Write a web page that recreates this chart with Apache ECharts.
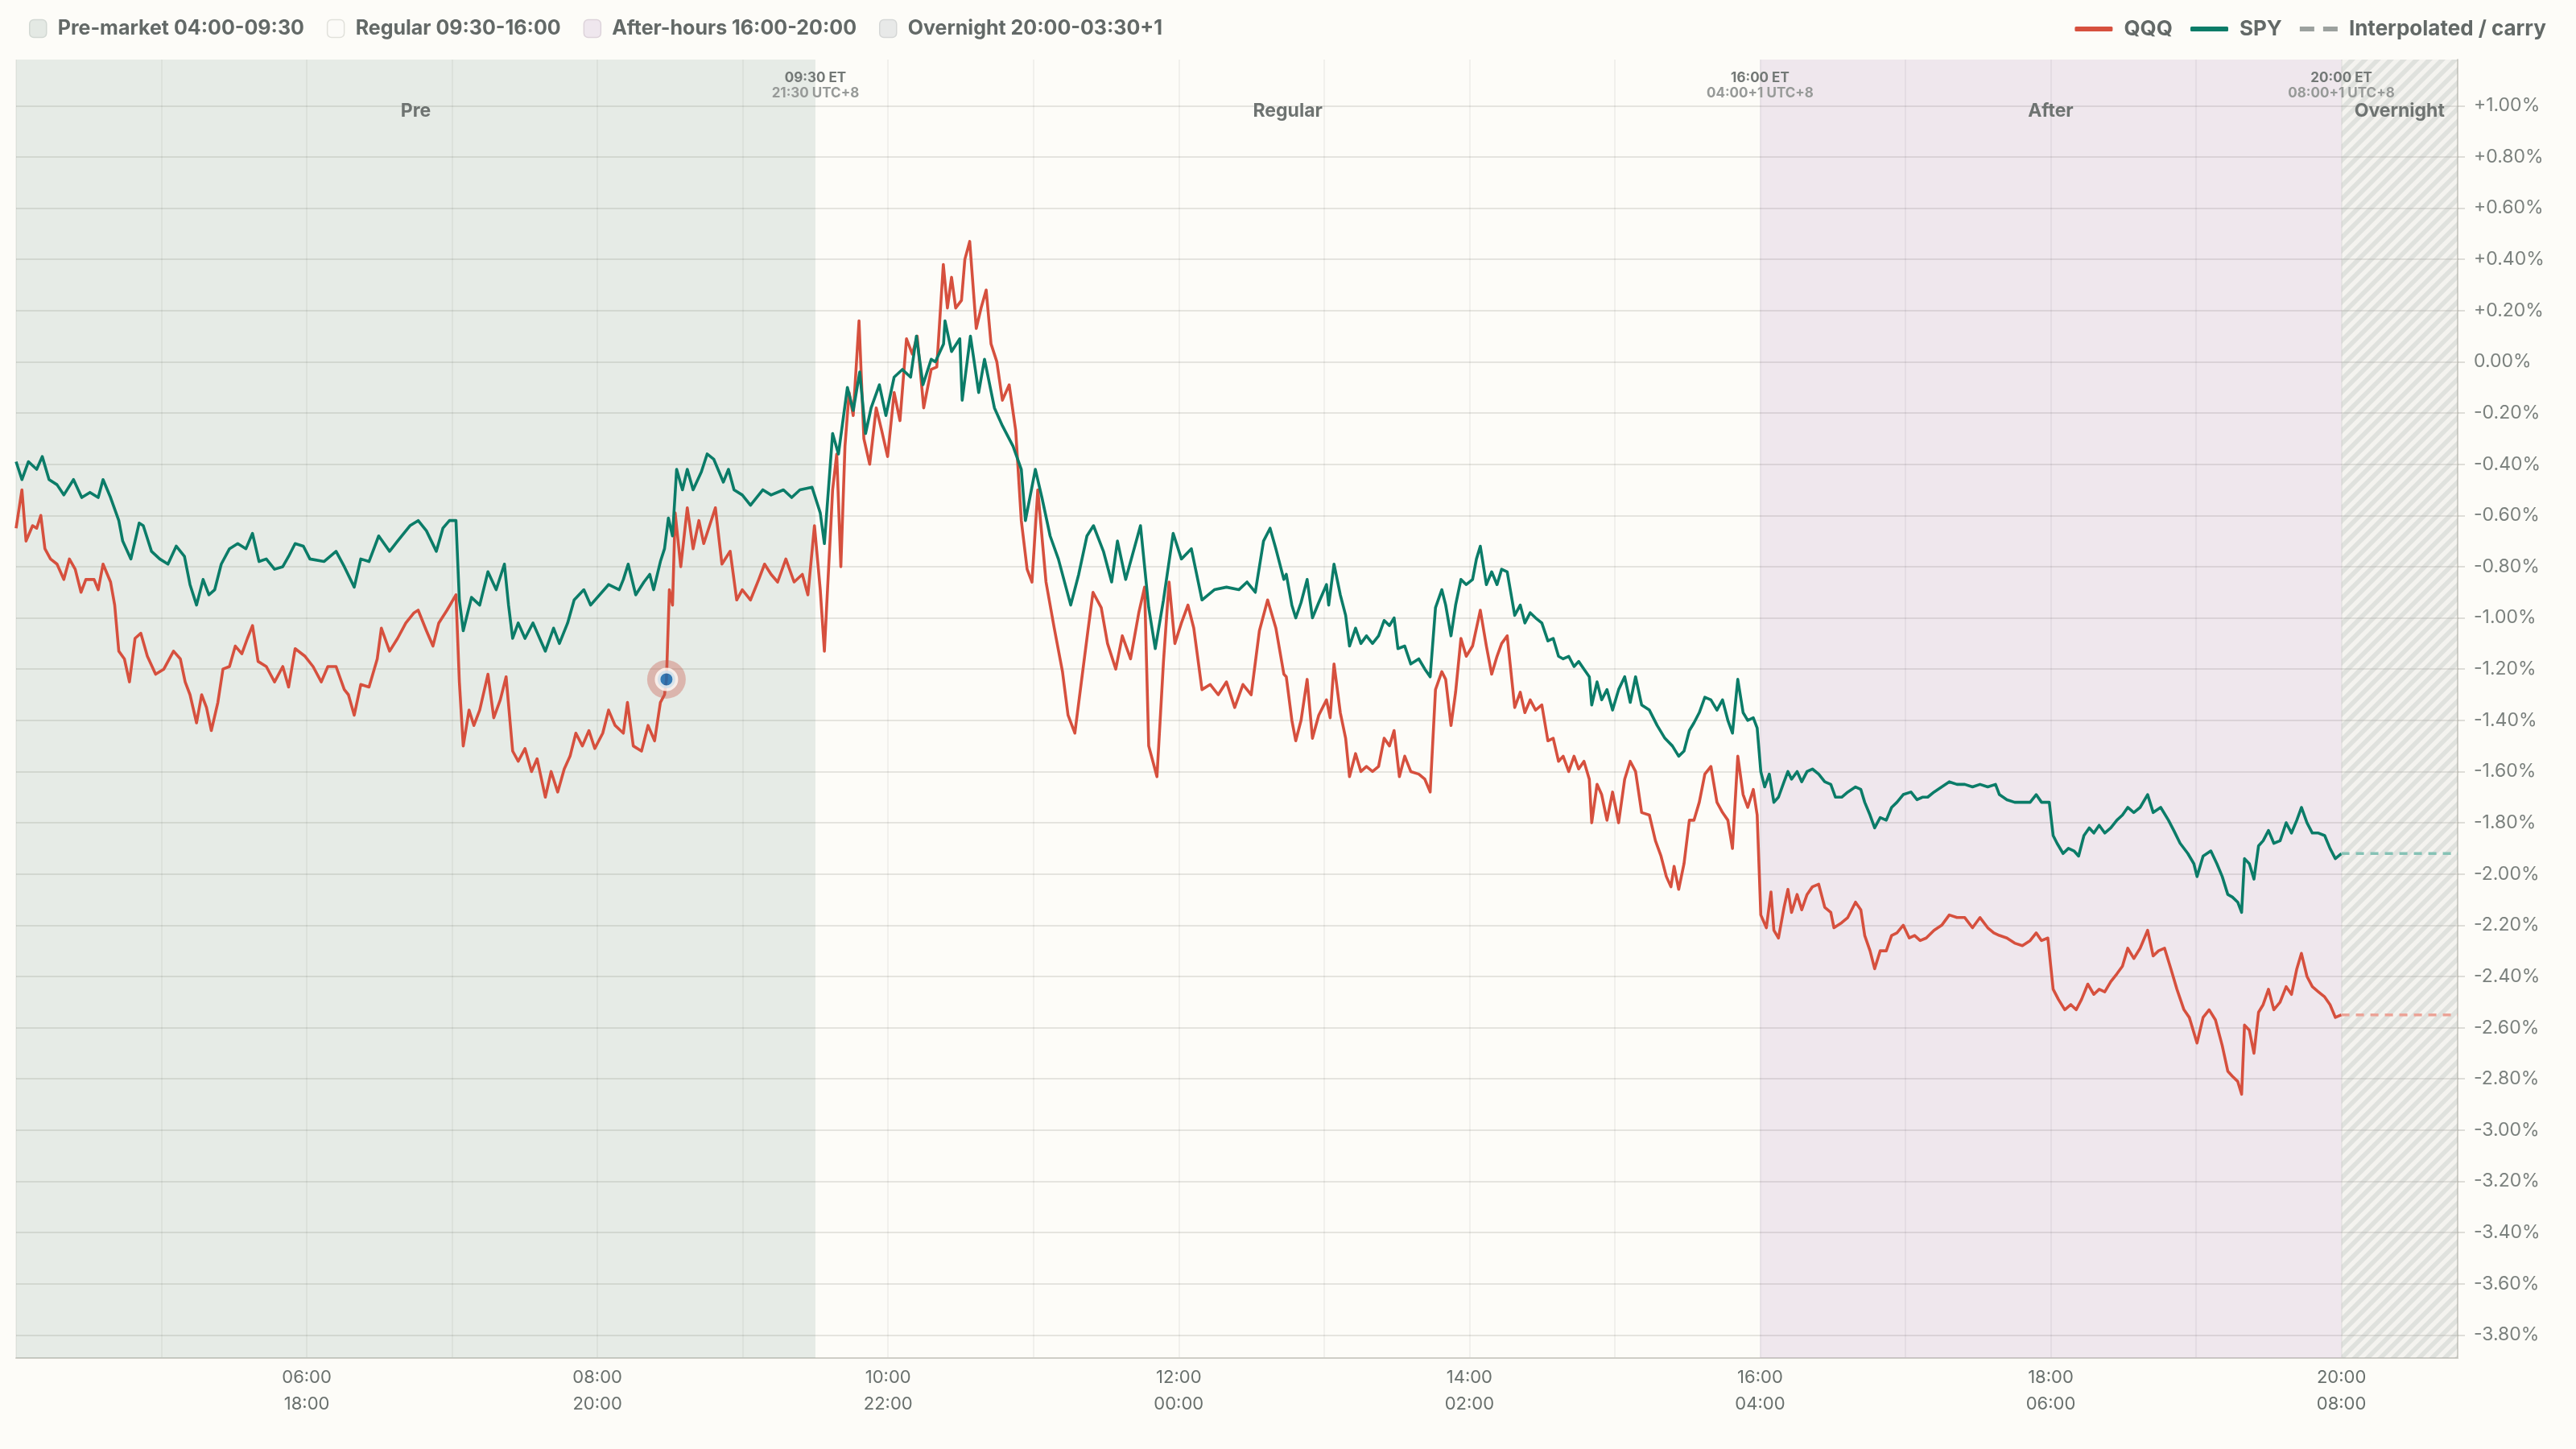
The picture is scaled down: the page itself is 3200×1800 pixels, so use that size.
<!DOCTYPE html>
<html>
<head>
<meta charset="utf-8">
<title>QQQ / SPY intraday sessions</title>
<script src="https://cdn.jsdelivr.net/npm/echarts@6/dist/echarts.min.js"></script>
<style>
html, body { margin: 0; padding: 0; background: #fdfcf8; }
#chart { width: 3200px; height: 1800px; }
</style>
</head>
<body>
<div id="chart"></div>
<script>
// [minutes after 00:00 ET, % change]
const qqqPoints = [
  [240.0,-0.65],[242.4,-0.50],[244.1,-0.70],[246.8,-0.64],[248.5,-0.65],[250.2,-0.60],[251.9,-0.73],[254.2,-0.77],[256.9,-0.79],[259.7,-0.85],
  [262.0,-0.77],[264.4,-0.81],[266.8,-0.90],[268.8,-0.85],[272.2,-0.85],[273.9,-0.89],[275.9,-0.79],[279.0,-0.86],[280.7,-0.95],[282.4,-1.13],
  [284.7,-1.16],[286.8,-1.25],[289.1,-1.08],[291.5,-1.06],[294.2,-1.15],[297.6,-1.22],[301.0,-1.20],[305.0,-1.13],[307.8,-1.16],[309.8,-1.25],
  [311.8,-1.30],[314.5,-1.41],[316.6,-1.30],[318.6,-1.35],[320.6,-1.44],[323.3,-1.33],[325.4,-1.20],[328.1,-1.19],[330.5,-1.11],[333.2,-1.14],
  [335.5,-1.08],[337.6,-1.03],[339.9,-1.17],[343.3,-1.19],[346.7,-1.25],[350.1,-1.19],[352.5,-1.27],[355.2,-1.12],[359.3,-1.15],[362.6,-1.19],
  [366.0,-1.25],[368.7,-1.19],[372.1,-1.19],[375.5,-1.28],[377.2,-1.30],[379.6,-1.38],[382.3,-1.26],[385.7,-1.27],[389.1,-1.16],[390.8,-1.04],
  [394.2,-1.13],[397.5,-1.08],[400.9,-1.02],[404.3,-0.98],[406.0,-0.97],[409.4,-1.05],[412.1,-1.11],[414.5,-1.02],[417.9,-0.97],[421.6,-0.91],
  [423.0,-1.25],[424.6,-1.50],[427.0,-1.36],[429.0,-1.42],[431.4,-1.36],[434.8,-1.22],[437.2,-1.39],[439.9,-1.32],[442.3,-1.23],[445.0,-1.52],
  [447.3,-1.56],[450.1,-1.51],[452.8,-1.60],[455.1,-1.55],[458.5,-1.70],[460.9,-1.60],[463.6,-1.68],[466.3,-1.59],[468.7,-1.54],[471.1,-1.45],
  [473.8,-1.50],[476.5,-1.44],[478.9,-1.51],[482.2,-1.45],[484.6,-1.36],[487.3,-1.42],[490.7,-1.45],[492.4,-1.33],[494.8,-1.50],[498.2,-1.52],
  [500.9,-1.42],[503.6,-1.48],[506.0,-1.33],[507.7,-1.30],[508.5,-1.24],[509.7,-0.89],[511.0,-0.95],[512.1,-0.59],[514.4,-0.80],[517.1,-0.57],
  [519.5,-0.73],[521.9,-0.62],[523.9,-0.71],[526.3,-0.64],[528.7,-0.57],[531.4,-0.79],[534.8,-0.74],[537.5,-0.93],[539.8,-0.89],[543.2,-0.93],
  [546.6,-0.85],[549.0,-0.79],[551.7,-0.83],[554.4,-0.86],[557.8,-0.77],[561.2,-0.86],[564.6,-0.83],[566.9,-0.91],[569.6,-0.64],[572.0,-0.89],
  [573.7,-1.13],[577.1,-0.50],[578.8,-0.36],[580.5,-0.80],[582.2,-0.33],[583.9,-0.12],[585.6,-0.21],[588.0,0.16],[590.0,-0.30],[592.4,-0.40],
  [595.1,-0.18],[597.4,-0.27],[599.8,-0.37],[602.5,-0.12],[604.9,-0.23],[607.6,0.09],[610.0,0.03],[612.0,0.10],[614.7,-0.18],[617.8,-0.03],
  [620.1,-0.02],[622.8,0.38],[624.5,0.21],[626.2,0.33],[627.9,0.21],[630.3,0.24],[631.7,0.40],[633.7,0.47],[636.4,0.13],[638.4,0.21],
  [640.5,0.28],[642.5,0.07],[644.9,0.00],[647.2,-0.15],[650.0,-0.09],[652.7,-0.27],[655.0,-0.62],[657.4,-0.81],[659.4,-0.86],[661.8,-0.50],
  [665.2,-0.86],[668.6,-1.04],[672.0,-1.21],[674.3,-1.38],[677.1,-1.45],[679.8,-1.25],[682.5,-1.05],[684.6,-0.90],[688.0,-0.96],[690.6,-1.10],
  [694.0,-1.20],[696.7,-1.07],[700.1,-1.16],[703.5,-0.98],[705.9,-0.88],[707.6,-1.50],[711.0,-1.62],[713.7,-1.17],[716.0,-0.86],[718.4,-1.10],
  [721.1,-1.02],[723.8,-0.95],[726.2,-1.04],[729.6,-1.28],[733.0,-1.26],[736.3,-1.30],[739.7,-1.25],[743.1,-1.35],[746.5,-1.26],[749.9,-1.30],
  [753.3,-1.05],[756.7,-0.93],[760.1,-1.04],[763.4,-1.22],[764.4,-1.23],[766.7,-1.40],[768.3,-1.48],[770.5,-1.40],[773.0,-1.24],[775.2,-1.47],
  [777.8,-1.38],[781.0,-1.32],[782.5,-1.39],[784.1,-1.18],[786.7,-1.37],[788.9,-1.47],[790.5,-1.62],[793.0,-1.53],[795.2,-1.60],[797.5,-1.58],
  [800.0,-1.60],[802.5,-1.58],[804.8,-1.47],[807.0,-1.50],[808.9,-1.44],[811.1,-1.62],[813.3,-1.54],[815.8,-1.60],[819.1,-1.61],[821.6,-1.63],
  [823.8,-1.68],[826.0,-1.28],[828.6,-1.21],[830.2,-1.24],[832.4,-1.42],[834.3,-1.29],[836.5,-1.08],[838.7,-1.15],[841.3,-1.11],[844.5,-0.97],
  [847.0,-1.11],[849.2,-1.22],[851.4,-1.15],[853.3,-1.10],[855.6,-1.07],[858.7,-1.35],[861.0,-1.29],[862.9,-1.37],[865.1,-1.32],[867.3,-1.36],
  [869.9,-1.34],[872.4,-1.48],[874.6,-1.47],[876.8,-1.56],[878.7,-1.54],[881.0,-1.60],[883.2,-1.54],[885.1,-1.59],[887.3,-1.56],[889.5,-1.63],
  [890.5,-1.80],[892.7,-1.65],[894.6,-1.69],[896.8,-1.79],[899.1,-1.68],[901.6,-1.80],[904.1,-1.63],[906.4,-1.56],[908.6,-1.60],[911.1,-1.76],
  [914.3,-1.77],[916.8,-1.87],[919.1,-1.93],[921.3,-2.01],[923.2,-2.05],[924.5,-1.97],[926.4,-2.06],[928.6,-1.96],[930.8,-1.79],[932.7,-1.79],
  [934.9,-1.72],[937.2,-1.61],[939.7,-1.58],[942.2,-1.72],[944.5,-1.76],[946.7,-1.79],[948.6,-1.90],[950.8,-1.54],[953.0,-1.69],[954.9,-1.74],
  [957.2,-1.67],[958.8,-1.77],[960.3,-2.16],[962.6,-2.21],[964.5,-2.07],[965.7,-2.22],[967.6,-2.25],[969.9,-2.13],[971.5,-2.06],[973.0,-2.15],
  [975.3,-2.08],[977.2,-2.14],[979.4,-2.08],[981.6,-2.05],[984.2,-2.04],[986.7,-2.13],[989.2,-2.15],[990.5,-2.21],[993.7,-2.19],[996.2,-2.17],
  [999.4,-2.11],[1001.6,-2.14],[1003.2,-2.24],[1005.4,-2.30],[1007.3,-2.37],[1009.6,-2.30],[1012.1,-2.30],[1014.3,-2.24],[1016.5,-2.23],[1019.1,-2.20],
  [1021.6,-2.25],[1023.8,-2.24],[1026.1,-2.26],[1028.6,-2.25],[1031.8,-2.22],[1035.0,-2.20],[1038.1,-2.16],[1041.3,-2.17],[1044.5,-2.17],[1047.7,-2.21],
  [1050.8,-2.17],[1054.0,-2.21],[1056.5,-2.23],[1058.8,-2.24],[1061.9,-2.25],[1065.1,-2.27],[1068.3,-2.28],[1071.5,-2.26],[1074.0,-2.23],[1076.2,-2.26],
  [1078.8,-2.25],[1081.0,-2.45],[1083.2,-2.49],[1085.8,-2.53],[1088.3,-2.51],[1090.5,-2.53],[1092.7,-2.49],[1095.3,-2.43],[1097.8,-2.47],[1100.0,-2.45],
  [1102.3,-2.46],[1104.8,-2.42],[1107.3,-2.39],[1109.6,-2.36],[1111.8,-2.29],[1114.3,-2.33],[1116.9,-2.29],[1120.0,-2.22],[1122.3,-2.32],[1124.5,-2.30],
  [1127.0,-2.29],[1129.6,-2.37],[1132.1,-2.45],[1135.0,-2.53],[1137.2,-2.56],[1140.4,-2.66],[1142.9,-2.56],[1145.4,-2.53],[1148.0,-2.57],[1150.8,-2.67],
  [1153.1,-2.77],[1155.0,-2.79],[1157.2,-2.81],[1158.8,-2.86],[1160.0,-2.59],[1162.0,-2.61],[1163.9,-2.70],[1165.8,-2.54],[1167.7,-2.51],[1169.9,-2.45],
  [1172.1,-2.53],[1174.7,-2.50],[1177.2,-2.44],[1179.4,-2.47],[1181.6,-2.37],[1183.5,-2.31],[1185.8,-2.40],[1188.0,-2.44],[1190.5,-2.46],[1193.1,-2.48],
  [1195.3,-2.51],[1197.5,-2.56],[1200.0,-2.55]
];

const spyPoints = [
  [240.0,-0.39],[242.4,-0.46],[245.1,-0.39],[248.5,-0.42],[250.8,-0.37],[253.6,-0.46],[256.9,-0.48],[259.7,-0.52],[263.7,-0.46],[267.1,-0.53],
  [270.5,-0.51],[273.9,-0.53],[275.9,-0.46],[279.0,-0.53],[282.4,-0.62],[284.0,-0.70],[287.4,-0.77],[290.8,-0.63],[292.5,-0.64],[295.9,-0.74],
  [299.3,-0.77],[302.7,-0.79],[306.1,-0.72],[309.5,-0.76],[311.8,-0.87],[314.5,-0.95],[317.2,-0.85],[319.6,-0.91],[322.0,-0.89],[324.7,-0.79],
  [328.1,-0.73],[331.5,-0.71],[334.9,-0.73],[337.6,-0.67],[340.3,-0.78],[343.3,-0.77],[346.7,-0.81],[350.1,-0.80],[352.5,-0.76],[355.2,-0.71],
  [358.6,-0.72],[361.3,-0.77],[367.1,-0.78],[372.1,-0.74],[375.5,-0.80],[379.6,-0.88],[382.3,-0.77],[385.7,-0.78],[389.7,-0.68],[394.2,-0.74],
  [397.5,-0.70],[402.6,-0.64],[406.0,-0.62],[409.4,-0.66],[413.5,-0.74],[416.2,-0.65],[418.9,-0.62],[421.6,-0.62],[423.0,-0.93],[424.6,-1.05],
  [428.0,-0.92],[431.4,-0.95],[434.8,-0.82],[438.2,-0.89],[441.6,-0.79],[443.3,-0.95],[445.0,-1.08],[447.3,-1.02],[450.1,-1.08],[453.4,-1.02],
  [458.5,-1.13],[461.9,-1.04],[464.3,-1.10],[467.7,-1.02],[470.4,-0.93],[474.4,-0.89],[477.2,-0.95],[484.6,-0.87],[489.0,-0.89],[490.7,-0.85],
  [492.7,-0.79],[495.8,-0.91],[499.2,-0.86],[501.6,-0.83],[503.2,-0.89],[506.0,-0.78],[507.7,-0.73],[509.3,-0.61],[511.0,-0.68],[512.7,-0.42],
  [515.1,-0.50],[517.1,-0.42],[519.5,-0.50],[522.9,-0.43],[525.3,-0.36],[528.0,-0.38],[532.0,-0.47],[534.1,-0.42],[536.4,-0.50],[539.8,-0.52],
  [543.2,-0.56],[548.3,-0.50],[551.7,-0.52],[556.8,-0.50],[560.2,-0.53],[563.6,-0.50],[568.6,-0.49],[572.0,-0.59],[573.7,-0.71],[577.1,-0.28],
  [579.5,-0.36],[583.2,-0.10],[585.6,-0.19],[588.3,-0.04],[590.7,-0.28],[593.0,-0.18],[596.4,-0.09],[599.1,-0.21],[602.5,-0.06],[605.9,-0.03],
  [609.3,-0.06],[611.7,0.10],[614.4,-0.09],[617.8,0.01],[619.5,0.00],[622.9,0.07],[623.5,0.16],[626.2,0.04],[629.6,0.09],[630.6,-0.15],
  [634.0,0.10],[637.4,-0.12],[639.8,0.01],[643.9,-0.18],[647.2,-0.25],[651.6,-0.33],[655.0,-0.42],[656.7,-0.62],[660.8,-0.42],[663.5,-0.53],
  [666.9,-0.68],[670.3,-0.77],[675.4,-0.95],[678.7,-0.83],[682.1,-0.68],[684.8,-0.64],[688.9,-0.74],[692.3,-0.86],[694.7,-0.70],[698.1,-0.85],
  [704.2,-0.64],[707.6,-0.96],[710.3,-1.12],[713.7,-0.93],[717.7,-0.67],[721.1,-0.77],[725.2,-0.73],[729.6,-0.93],[734.7,-0.89],[739.7,-0.88],
  [744.8,-0.89],[748.2,-0.86],[751.6,-0.90],[755.0,-0.70],[757.7,-0.65],[760.1,-0.73],[763.4,-0.85],[764.4,-0.83],[766.7,-0.95],[768.3,-1.00],
  [770.5,-0.94],[773.0,-0.85],[775.2,-1.00],[777.8,-0.94],[781.0,-0.87],[781.9,-0.95],[784.1,-0.79],[786.7,-0.91],[788.9,-0.99],[790.5,-1.11],
  [793.0,-1.04],[795.2,-1.10],[797.5,-1.07],[800.0,-1.10],[802.5,-1.07],[804.8,-1.01],[807.0,-1.03],[808.9,-1.00],[810.5,-1.12],[813.3,-1.11],
  [815.8,-1.18],[819.1,-1.16],[821.6,-1.20],[823.8,-1.23],[826.0,-0.96],[828.6,-0.89],[830.2,-0.95],[832.4,-1.07],[834.3,-0.95],[836.5,-0.85],
  [838.7,-0.87],[841.3,-0.85],[842.9,-0.77],[844.5,-0.72],[847.0,-0.87],[849.2,-0.82],[851.4,-0.87],[853.3,-0.81],[855.6,-0.82],[858.7,-0.99],
  [861.0,-0.95],[862.9,-1.02],[865.1,-0.98],[867.3,-1.00],[869.9,-1.02],[872.4,-1.09],[874.6,-1.08],[876.8,-1.15],[878.7,-1.16],[881.0,-1.15],
  [883.2,-1.19],[885.1,-1.17],[887.3,-1.20],[889.5,-1.23],[890.5,-1.34],[892.7,-1.25],[894.6,-1.32],[896.8,-1.28],[899.1,-1.36],[901.6,-1.28],
  [904.1,-1.23],[906.4,-1.33],[908.6,-1.23],[911.1,-1.34],[914.3,-1.36],[917.5,-1.42],[920.7,-1.47],[923.8,-1.50],[926.4,-1.54],[928.6,-1.52],
  [930.8,-1.44],[932.7,-1.41],[934.9,-1.37],[937.2,-1.31],[939.7,-1.32],[942.2,-1.36],[944.5,-1.32],[946.7,-1.40],[948.6,-1.45],[950.8,-1.24],
  [953.0,-1.37],[954.9,-1.40],[957.2,-1.39],[958.8,-1.43],[960.3,-1.60],[961.9,-1.66],[963.8,-1.61],[965.7,-1.72],[967.6,-1.70],[969.9,-1.64],
  [971.5,-1.60],[973.0,-1.63],[975.3,-1.60],[977.2,-1.64],[979.4,-1.60],[981.6,-1.59],[984.2,-1.61],[986.7,-1.64],[989.2,-1.65],[991.1,-1.70],
  [993.7,-1.70],[996.2,-1.68],[999.4,-1.66],[1001.6,-1.67],[1003.2,-1.72],[1005.4,-1.77],[1007.3,-1.82],[1009.6,-1.78],[1012.1,-1.79],[1014.3,-1.74],
  [1016.5,-1.72],[1019.1,-1.69],[1022.3,-1.68],[1024.8,-1.71],[1027.0,-1.70],[1029.2,-1.70],[1031.8,-1.68],[1035.0,-1.66],[1038.1,-1.64],[1041.3,-1.65],
  [1044.5,-1.65],[1047.7,-1.66],[1050.8,-1.65],[1054.0,-1.66],[1057.2,-1.65],[1058.8,-1.69],[1061.9,-1.71],[1065.1,-1.72],[1068.3,-1.72],[1071.5,-1.72],
  [1074.0,-1.69],[1076.2,-1.72],[1079.4,-1.72],[1081.0,-1.85],[1082.6,-1.88],[1085.1,-1.92],[1087.3,-1.90],[1089.6,-1.91],[1091.5,-1.93],[1093.7,-1.85],
  [1095.9,-1.82],[1097.8,-1.84],[1100.0,-1.81],[1102.3,-1.84],[1104.8,-1.82],[1107.3,-1.79],[1109.6,-1.77],[1111.8,-1.74],[1114.3,-1.76],[1116.9,-1.74],
  [1120.0,-1.69],[1122.3,-1.76],[1125.4,-1.74],[1128.6,-1.79],[1130.8,-1.83],[1133.4,-1.88],[1136.6,-1.92],[1139.1,-1.96],[1140.4,-2.01],[1142.9,-1.93],
  [1146.1,-1.91],[1148.6,-1.96],[1150.8,-2.01],[1153.1,-2.08],[1155.0,-2.09],[1157.2,-2.11],[1158.8,-2.15],[1160.0,-1.94],[1162.0,-1.96],[1163.9,-2.02],
  [1165.8,-1.89],[1167.7,-1.87],[1169.9,-1.83],[1172.1,-1.88],[1174.7,-1.87],[1177.2,-1.80],[1179.4,-1.84],[1181.6,-1.79],[1183.5,-1.74],[1185.8,-1.80],
  [1188.0,-1.84],[1190.5,-1.84],[1193.1,-1.85],[1195.3,-1.90],[1197.5,-1.94],[1200.0,-1.92]
];

// highlighted point on QQQ
const highlightPoint = [508.5, -1.24];

const sessionNames = ['Pre-market 04:00-09:30', 'Regular 09:30-16:00', 'After-hours 16:00-20:00', 'Overnight 20:00-03:30+1'];
const sessionShort = ['Pre', 'Regular', 'After', 'Overnight'];
const sessionStart = [240, 570, 960, 1200];
const sessionEnd = [570, 960, 1200, 1650];

const boundaryTimes = [570, 960, 1200];
const boundaryET = ['09:30 ET', '16:00 ET', '20:00 ET'];
const boundaryLocal = ['21:30 UTC+8', '04:00+1 UTC+8', '08:00+1 UTC+8'];

const X_MIN = 240, X_MAX = 1248;
const Y_MIN = -3.89, Y_MAX = 1.18;

const FONT = 'Inter, "Noto Sans", sans-serif';
const QQQ_COLOR = '#d6503e';
const SPY_COLOR = '#0b7c68';

function hatchPattern() {
    const c = document.createElement('canvas');
    c.width = 16;
    c.height = 16;
    const g = c.getContext('2d');
    g.fillStyle = 'rgba(150,155,150,0.09)';
    g.fillRect(0, 0, 16, 16);
    g.strokeStyle = 'rgba(150,160,155,0.22)';
    g.lineWidth = 5.7;
    [-12, 4, 20, 36].forEach(function (d) {
        g.beginPath();
        g.moveTo(d + 20, -20);
        g.lineTo(d - 20, 20);
        g.stroke();
    });
    return c;
}

const bandFills = ['rgba(100,139,128,0.15)', 'rgba(0,0,0,0)', 'rgba(136,85,165,0.12)', { image: hatchPattern(), repeat: 'repeat' }];
const legendFills = ['#e4e9e4', '#fcfbf8', '#efe7ee', '#e8e9e8'];
const legendBorders = ['#d2d8d3', '#e1e1db', '#ddd3da', '#d5d7d6'];

function pad(n) { return (n < 10 ? '0' : '') + n; }

function xLabel(v) {
    if (v <= X_MIN || v > 1200 || v % 120 !== 0) return '';
    const h = v / 60;
    return pad(h) + ':00\n' + pad((h + 12) % 24) + ':00';
}

function yLabel(v) {
    const s = Math.abs(v) < 1e-9 ? '0.00' : v.toFixed(2);
    return (v > 1e-9 ? '+' : '') + s + '%';
}

const bandSeries = sessionNames.map(function (name, i) {
    return {
        name: name,
        type: 'line',
        data: [],
        silent: true,
        markArea: {
            silent: true,
            itemStyle: { color: bandFills[i] },
            label: {
                show: true,
                position: 'insideTop',
                distance: 53,
                formatter: sessionShort[i],
                color: '#6e7371',
                fontSize: 23,
                fontWeight: 700,
                fontFamily: FONT
            },
            data: [[{ xAxis: sessionStart[i] }, { xAxis: Math.min(sessionEnd[i], X_MAX) }]]
        }
    };
});

const qqqLast = qqqPoints[qqqPoints.length - 1];
const spyLast = spyPoints[spyPoints.length - 1];

const chart = echarts.init(document.getElementById('chart'));

chart.setOption({
    animation: false,
    backgroundColor: '#fdfcf8',
    textStyle: { fontFamily: FONT },
    grid: { left: 20, right: 147, top: 74, bottom: 113 },
    legend: [
        {
            left: 31,
            top: 18,
            icon: 'roundRect',
            itemWidth: 21,
            itemHeight: 22,
            itemGap: 28,
            selectedMode: false,
            textStyle: { fontFamily: FONT, fontSize: 25, fontWeight: 700, color: '#636967', padding: [0, 0, 0, 9] },
            data: sessionNames.map(function (n, i) {
                return { name: n, itemStyle: { color: legendFills[i], borderColor: legendBorders[i], borderWidth: 1.5 } };
            })
        },
        {
            right: 32,
            top: 18,
            itemWidth: 47,
            itemHeight: 6,
            itemGap: 22,
            selectedMode: false,
            textStyle: { fontFamily: FONT, fontSize: 26, fontWeight: 700, color: '#636967', padding: [0, 0, 0, 9] },
            data: [
                { name: 'QQQ', icon: 'roundRect', itemStyle: { color: QQQ_COLOR, borderWidth: 0 } },
                { name: 'SPY', icon: 'roundRect', itemStyle: { color: SPY_COLOR, borderWidth: 0 } },
                { name: 'Interpolated / carry', icon: 'path://M0 0H18V6H0ZM29 0H47V6H29Z', itemStyle: { color: '#9ca19e', borderWidth: 0 } }
            ]
        }
    ],
    xAxis: {
        type: 'value',
        min: X_MIN,
        max: X_MAX,
        interval: 60,
        axisLine: { show: true, onZero: false, lineStyle: { color: '#cfcec7', width: 2 } },
        axisTick: { show: false },
        axisLabel: {
            formatter: xLabel,
            fontFamily: FONT,
            fontSize: 22,
            color: '#69706d',
            lineHeight: 33,
            margin: 8
        },
        splitLine: { show: true, showMaxLine: false, lineStyle: { color: 'rgba(60,60,50,0.08)', width: 1.5 } }
    },
    yAxis: {
        type: 'value',
        position: 'right',
        min: Y_MIN,
        max: Y_MAX,
        splitNumber: 25,
        axisLine: { show: true, onZero: false, lineStyle: { color: '#d2d1ca', width: 2 } },
        axisTick: { show: true, length: 9, lineStyle: { color: 'rgba(60,60,50,0.16)', width: 2 } },
        axisLabel: {
            formatter: yLabel,
            showMinLabel: false,
            showMaxLabel: false,
            margin: 20,
            fontFamily: FONT,
            fontSize: 23,
            color: '#7b817e'
        },
        splitLine: { show: true, showMinLine: false, showMaxLine: false, lineStyle: { color: 'rgba(60,60,50,0.12)', width: 2 } }
    },
    series: bandSeries.concat([
        {
            name: 'boundaries',
            type: 'line',
            data: [],
            silent: true,
            markPoint: {
                symbol: 'circle',
                symbolSize: 1,
                silent: true,
                itemStyle: { color: 'rgba(0,0,0,0)' },
                label: {
                    show: true,
                    position: 'bottom',
                    distance: 13,
                    formatter: function (p) {
                        return '{a|' + boundaryET[p.dataIndex] + '}\n{b|' + boundaryLocal[p.dataIndex] + '}';
                    },
                    rich: {
                        a: { fontFamily: FONT, fontSize: 17, fontWeight: 700, color: '#737876', lineHeight: 19, align: 'center' },
                        b: { fontFamily: FONT, fontSize: 17, fontWeight: 700, color: '#979a98', lineHeight: 19, align: 'center' }
                    }
                },
                data: boundaryTimes.map(function (t) { return { coord: [t, Y_MAX] }; })
            }
        },
        {
            name: 'QQQ',
            type: 'line',
            data: qqqPoints,
            symbol: 'none',
            z: 3,
            itemStyle: { color: QQQ_COLOR },
            lineStyle: { color: QQQ_COLOR, width: 3.6, join: 'round' }
        },
        {
            name: 'SPY',
            type: 'line',
            data: spyPoints,
            symbol: 'none',
            z: 3,
            itemStyle: { color: SPY_COLOR },
            lineStyle: { color: SPY_COLOR, width: 3.6, join: 'round' }
        },
        {
            name: 'Interpolated / carry',
            type: 'line',
            data: [qqqLast, [X_MAX, qqqLast[1]]],
            symbol: 'none',
            z: 3,
            itemStyle: { color: '#eba397' },
            lineStyle: { color: '#eba397', width: 3.5, type: [10, 8] }
        },
        {
            name: 'Interpolated / carry',
            type: 'line',
            data: [spyLast, [X_MAX, spyLast[1]]],
            symbol: 'none',
            z: 3,
            itemStyle: { color: '#86c2b5' },
            lineStyle: { color: '#86c2b5', width: 3.5, type: [10, 8] }
        },
        {
            name: 'halo',
            type: 'scatter',
            data: [highlightPoint],
            symbolSize: 48,
            silent: true,
            z: 5,
            itemStyle: { color: 'rgba(200,90,75,0.46)' }
        },
        {
            name: 'point',
            type: 'scatter',
            data: [highlightPoint],
            symbolSize: 22,
            silent: true,
            z: 6,
            itemStyle: { color: '#0b6bb5', borderColor: '#fffdf8', borderWidth: 7 }
        }
    ])
});

window.addEventListener('resize', function () { chart.resize(); });
</script>
</body>
</html>
